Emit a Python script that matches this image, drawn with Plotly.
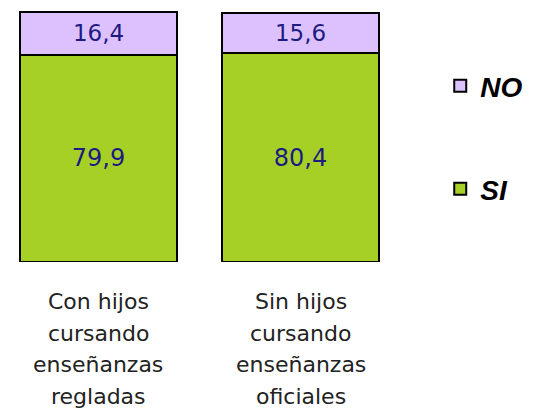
import plotly.graph_objects as go

# ---- data ----
categories = ["Con hijos cursando enseñanzas regladas",
              "Sin hijos cursando enseñanzas oficiales"]
category_lines = [["Con hijos", "cursando", "enseñanzas", "regladas"],
                  ["Sin hijos", "cursando", "enseñanzas", "oficiales"]]
si_values = [79.9, 80.4]
no_values = [16.4, 15.6]
series_names = ["SI", "NO"]

GREEN = "#A7D027"
PURPLE = "#DDC1FF"
NAVY = "#1C1C80"

fig = go.Figure()
fig.add_trace(go.Bar(
    x=categories, y=si_values, name=series_names[0],
    marker=dict(color=GREEN, line=dict(color="black", width=2)),
    width=0.777, texttemplate="%{y:.1f}", textposition="inside",
    insidetextanchor="middle", textangle=0, constraintext="none",
    textfont=dict(family="DejaVu Sans", size=24, color=NAVY),
    legend="legend2", hoverinfo="skip",
))
fig.add_trace(go.Bar(
    x=categories, y=no_values, name=series_names[1],
    marker=dict(color=PURPLE, line=dict(color="black", width=2)),
    width=0.777, texttemplate="%{y:.1f}", textposition="inside",
    insidetextanchor="middle", textangle=0, constraintext="none",
    textfont=dict(family="DejaVu Sans", size=23, color=NAVY),
    legend="legend", hoverinfo="skip",
))

line_y = [-0.157, -0.280, -0.402, -0.528]
for cat, lines in zip(categories, category_lines):
    for ly, txt in zip(line_y, lines):
        fig.add_annotation(x=cat, y=ly, xref="x", yref="paper", text=txt,
                           showarrow=False, yanchor="middle",
                           font=dict(family="DejaVu Sans", size=22, color="#222222"))

legend_font = dict(family="Liberation Sans, Arial", size=28, color="black",
                   weight="bold", style="italic")
fig.update_layout(
    width=533, height=417,
    margin=dict(l=2, r=133, t=0, b=163),
    paper_bgcolor="white", plot_bgcolor="white",
    barmode="stack", separators=",.",
    showlegend=True,
    legend=dict(x=1.081, y=0.693, xanchor="left", yanchor="middle",
                font=legend_font, bgcolor="rgba(0,0,0,0)"),
    legend2=dict(x=1.081, y=0.287, xanchor="left", yanchor="middle",
                 font=legend_font, bgcolor="rgba(0,0,0,0)"),
    xaxis=dict(range=[-0.438, 1.532], showticklabels=False, showgrid=False,
               zeroline=False, showline=False, ticks=""),
    yaxis=dict(range=[0, 97.84], visible=False, showgrid=False, zeroline=False),
)

fig.write_html("out.html")
